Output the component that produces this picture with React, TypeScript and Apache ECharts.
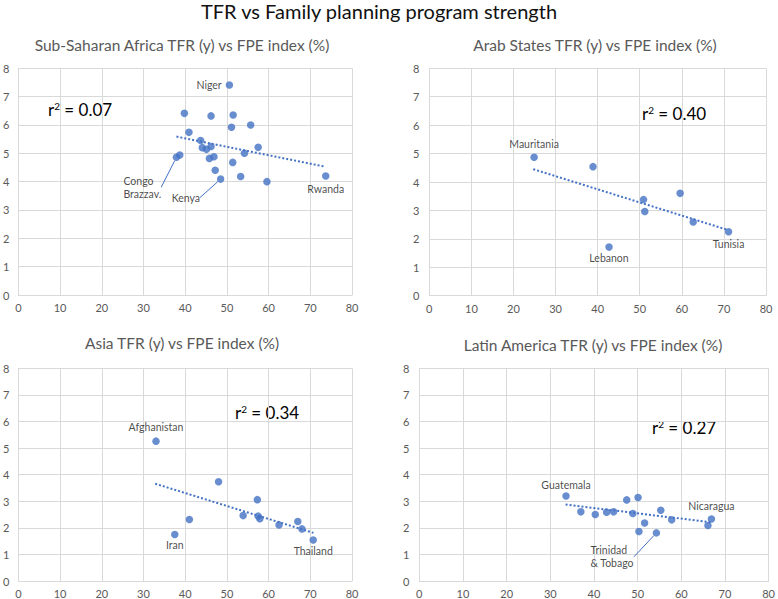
import React, { useEffect, useRef } from 'react';
import * as echarts from 'echarts';

// ---------- DATA ----------
const mainTitle = 'TFR vs Family planning program strength';

const ssaTitle = 'Sub-Saharan Africa TFR (y) vs FPE index (%)';
const ssaFpe = [50.6, 39.8, 46.2, 51.5, 51.1, 55.7, 40.9, 43.7, 44.1, 45.1, 46.2, 57.5, 54.2, 37.9, 38.7, 45.8, 46.9, 51.4, 47.2, 48.5, 53.3, 59.6, 73.7];
const ssaTfr = [7.41, 6.41, 6.32, 6.35, 5.92, 6.0, 5.74, 5.45, 5.2, 5.14, 5.24, 5.21, 5.0, 4.86, 4.94, 4.82, 4.88, 4.68, 4.4, 4.09, 4.18, 4.0, 4.2];
const ssaNames = ['Niger', '', '', '', '', '', '', '', '', '', '', '', '', 'Congo\nBrazzav.', '', '', '', '', '', 'Kenya', '', '', 'Rwanda'];
const ssaTrendFpe = [37.9, 73.5];
const ssaTrendTfr = [5.59, 4.53];
const ssaR2 = '0.07';

const arabTitle = 'Arab States TFR (y) vs FPE index (%)';
const arabFpe = [24.9, 38.9, 50.9, 51.2, 59.6, 62.7, 71.1, 42.7];
const arabTfr = [4.87, 4.54, 3.38, 2.96, 3.6, 2.59, 2.25, 1.71];
const arabNames = ['Mauritania', '', '', '', '', '', 'Tunisia', 'Lebanon'];
const arabTrendFpe = [24.7, 71.0];
const arabTrendTfr = [4.45, 2.31];
const arabR2 = '0.40';

const asiaTitle = 'Asia TFR (y) vs FPE index (%)';
const asiaFpe = [33.0, 48.0, 57.3, 41.0, 37.5, 53.9, 57.5, 57.9, 62.5, 67.0, 68.0, 70.7];
const asiaTfr = [5.26, 3.73, 3.06, 2.31, 1.75, 2.46, 2.44, 2.34, 2.11, 2.24, 1.96, 1.54];
const asiaNames = ['Afghanistan', '', '', '', 'Iran', '', '', '', '', '', '', 'Thailand'];
const asiaTrendFpe = [32.8, 70.75];
const asiaTrendTfr = [3.66, 1.81];
const asiaR2 = '0.34';

const latinTitle = 'Latin America TFR (y) vs FPE index (%)';
const latinFpe = [33.6, 37.0, 40.3, 42.9, 44.5, 47.5, 50.1, 48.9, 55.3, 51.6, 50.3, 54.3, 57.8, 66.1, 66.9];
const latinTfr = [3.2, 2.6, 2.5, 2.59, 2.6, 3.05, 3.14, 2.54, 2.66, 2.18, 1.86, 1.81, 2.3, 2.09, 2.33];
const latinNames = ['Guatemala', '', '', '', '', '', '', '', '', '', '', 'Trinidad\n& Tobago', '', '', 'Nicaragua'];
const latinTrendFpe = [33.5, 66.7];
const latinTrendTfr = [2.875, 2.21];
const latinR2 = '0.27';

const xTicks = [0, 80, 10];
const yTicks = [0, 8, 1];

// ---------- LAYOUT / STYLE ----------
const FONT = 'Lato, "Open Sans", sans-serif';
const BLUE = '#4472C4';
const GRID_COLOR = '#d9d9d9';
const TICK_COLOR = '#595959';

const panels = [
  { title: ssaTitle, fpe: ssaFpe, tfr: ssaTfr, names: ssaNames, tx: ssaTrendFpe, ty: ssaTrendTfr, r2: ssaR2 },
  { title: arabTitle, fpe: arabFpe, tfr: arabTfr, names: arabNames, tx: arabTrendFpe, ty: arabTrendTfr, r2: arabR2 },
  { title: asiaTitle, fpe: asiaFpe, tfr: asiaTfr, names: asiaNames, tx: asiaTrendFpe, ty: asiaTrendTfr, r2: asiaR2 },
  { title: latinTitle, fpe: latinFpe, tfr: latinTfr, names: latinNames, tx: latinTrendFpe, ty: latinTrendTfr, r2: latinR2 },
];

const grids = [
  { left: 15.5, top: 68.3, width: 336.5, height: 226.7 },
  { left: 429.3, top: 68.3, width: 336.7, height: 227.4 },
  { left: 15, top: 368.3, width: 337, height: 213.4 },
  { left: 419.3, top: 368.3, width: 351.5, height: 213.4 },
];
const yLabelMargin = [9, 10, 9, 10];
const subtitlePos = [[182, 45], [595, 45], [182, 343], [593, 345]];
const r2Pos = [[48, 109], [642, 113], [235, 412], [652, 427]];

type LabelCfg = { position?: any; distance?: number; offset?: number[]; leader?: number[] };
const labelCfg: Record<string, LabelCfg> = {
  Niger: { position: 'left', distance: 4, offset: [0, -3] },
  'Congo\nBrazzav.': { leader: [-53, 17] },
  Kenya: { leader: [-49, 12] },
  Rwanda: { position: 'bottom', distance: 3, offset: [-3, 0] },
  Mauritania: { position: 'top', distance: 3, offset: [-4, 0] },
  Lebanon: { position: 'bottom', distance: 1, offset: [0, 0] },
  Tunisia: { position: 'bottom', distance: 2, offset: [9, 0] },
  Afghanistan: { position: 'top', distance: 4, offset: [-1, 0] },
  Iran: { position: 'bottom', distance: 0, offset: [-2, 0] },
  Thailand: { position: 'bottom', distance: 1, offset: [2, 0] },
  Guatemala: { position: 'top', distance: 1, offset: [-10, 0] },
  Nicaragua: { position: 'top', distance: 3, offset: [15, 0] },
  'Trinidad\n& Tobago': { leader: [-66, 11] },
};

const labelText = { color: '#1a1a1a', fontSize: 10.5, fontFamily: FONT, lineHeight: 13 };

function buildOption() {
  const xAxis: any[] = [];
  const yAxis: any[] = [];
  const series: any[] = [];
  const graphic: any[] = [];

  graphic.push({
    type: 'text', x: 379, y: 11,
    style: { text: mainTitle, fontSize: 20, fontFamily: FONT, fill: '#111', align: 'center', verticalAlign: 'middle' },
  });

  panels.forEach((p, i) => {
    xAxis.push({
      gridIndex: i, type: 'value', min: xTicks[0], max: xTicks[1], interval: xTicks[2],
      axisLine: { show: true, lineStyle: { color: GRID_COLOR } },
      axisTick: { show: false },
      splitLine: { show: true, lineStyle: { color: GRID_COLOR, width: 1 } },
      axisLabel: { color: TICK_COLOR, fontSize: 11, fontFamily: FONT, margin: 7 },
    });
    yAxis.push({
      gridIndex: i, type: 'value', min: yTicks[0], max: yTicks[1], interval: yTicks[2],
      axisLine: { show: true, lineStyle: { color: GRID_COLOR } },
      axisTick: { show: false },
      splitLine: { show: true, lineStyle: { color: GRID_COLOR, width: 1 } },
      axisLabel: { color: TICK_COLOR, fontSize: 11, fontFamily: FONT, margin: yLabelMargin[i] },
    });

    const data = p.fpe.map((x, k) => {
      const name = p.names[k];
      if (!name) return { value: [x, p.tfr[k]] };
      const cfg = labelCfg[name] || {};
      if (cfg.leader) {
        return {
          value: [x, p.tfr[k]], name,
          label: { show: true, formatter: '{b}', position: 'inside', align: 'left', verticalAlign: 'top', ...labelText },
          labelLine: { show: true, lineStyle: { color: BLUE, width: 1 } },
        };
      }
      return {
        value: [x, p.tfr[k]], name,
        label: { show: true, formatter: '{b}', position: cfg.position, distance: cfg.distance, offset: cfg.offset, ...labelText },
      };
    });

    series.push({
      type: 'scatter', xAxisIndex: i, yAxisIndex: i, symbol: 'circle', symbolSize: 7.5,
      itemStyle: { color: BLUE }, data, z: 2,
      labelLayout: (params: any) => {
        const name = p.names[params.dataIndex];
        const cfg = name ? labelCfg[name] : null;
        if (cfg && cfg.leader) return { dx: cfg.leader[0], dy: cfg.leader[1] };
        return {};
      },
    });

    series.push({
      type: 'line', xAxisIndex: i, yAxisIndex: i, symbol: 'none', silent: true, z: 3,
      lineStyle: { color: BLUE, width: 2, type: [2, 2] },
      data: p.tx.map((x, k) => [x, p.ty[k]]),
    });

    graphic.push({
      type: 'text', x: subtitlePos[i][0], y: subtitlePos[i][1],
      style: { text: p.title, fontSize: 15.5, fontFamily: FONT, fill: '#595959', align: 'center', verticalAlign: 'middle' },
    });
    graphic.push({
      type: 'text', x: r2Pos[i][0], y: r2Pos[i][1],
      style: {
        text: '{r|r}{s|2}{r| = ' + p.r2 + '}',
        align: 'left', verticalAlign: 'middle',
        rich: {
          r: { fontSize: 17, fontFamily: FONT, fill: '#000' },
          s: { fontSize: 10, fontFamily: FONT, fill: '#000', padding: [0, 0, 7, 0] },
        },
      },
    });
  });

  return {
    animation: false,
    backgroundColor: '#ffffff',
    grid: grids.map((g) => ({ ...g, containLabel: false })),
    xAxis, yAxis, series, graphic,
  };
}

export default function App() {
  const ref = useRef<HTMLDivElement>(null);
  useEffect(() => {
    if (!ref.current) return;
    const chart = echarts.init(ref.current, null, { renderer: 'svg' });
    chart.setOption(buildOption() as any);
    return () => chart.dispose();
  }, []);
  return <div ref={ref} style={{ position: 'fixed', left: 0, top: 0, width: 778, height: 599, background: '#fff' }} />;
}
